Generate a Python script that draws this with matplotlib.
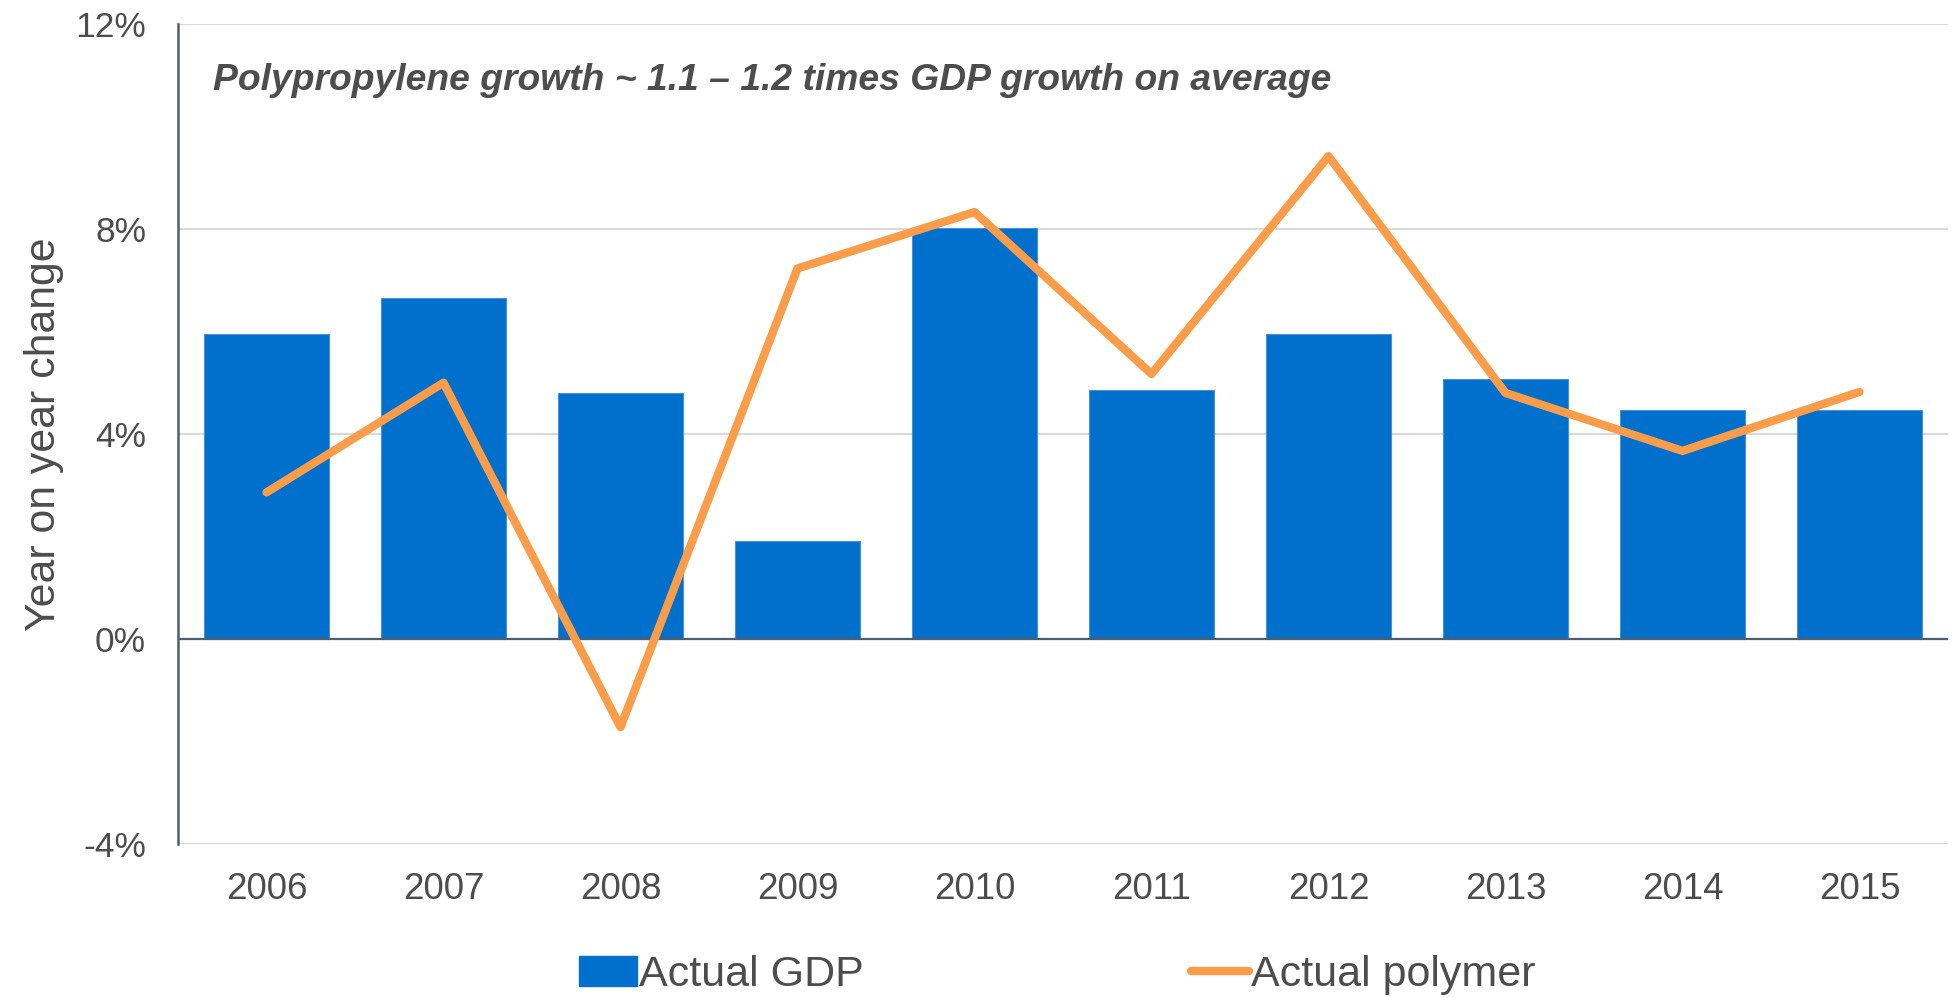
import matplotlib.pyplot as plt
from matplotlib.lines import Line2D
from matplotlib.patches import Patch
from matplotlib.ticker import FuncFormatter
import numpy as np

years = ["2006", "2007", "2008", "2009", "2010", "2011", "2012", "2013", "2014", "2015"]
gdp = [5.95, 6.65, 4.8, 1.92, 8.01, 4.85, 5.95, 5.07, 4.47, 4.47]
polymer = [2.86, 5.0, -1.72, 7.23, 8.33, 5.17, 9.42, 4.8, 3.67, 4.82]

blue = "#0070CC"
orange = "#F99D4A"
txt = "#4D4D4D"
slate = "#4A6072"

plt.rcParams["font.family"] = ["Liberation Sans", "DejaVu Sans"]

fig = plt.figure(figsize=(19.56, 9.98), dpi=100)
ax = fig.add_axes([0.091, 0.1543, 0.9049, 0.8217])

x = np.arange(len(years))
ax.bar(x, gdp, width=0.706, color=blue, edgecolor="#4A90D9", linewidth=0.8, zorder=2)
ax.plot(x, polymer, color=orange, lw=6, solid_capstyle="round",
        solid_joinstyle="round", zorder=4)
ax.axhline(0, color=slate, lw=1.6, zorder=3)

ax.set_xlim(-0.5, len(years) - 0.5)
ax.set_ylim(-4, 12)
ax.set_yticks([-4, 0, 4, 8, 12])
ax.yaxis.set_major_formatter(FuncFormatter(lambda v, p: f"{v:.0f}%"))
ax.set_xticks(x)
ax.set_xticklabels(years)
ax.grid(axis="y", color="#D9D9D9", lw=1.5, zorder=0)
ax.set_axisbelow(True)

for s in ["top", "right", "bottom"]:
    ax.spines[s].set_visible(False)
ax.spines["left"].set_color(slate)
ax.spines["left"].set_linewidth(1.8)

ax.tick_params(axis="both", length=0, colors=txt)
ax.tick_params(axis="y", pad=23, labelsize=25.5)
ax.tick_params(axis="x", pad=20, labelsize=26.5)

ax.set_ylabel("Year on year change", fontsize=30.8, color=txt, labelpad=8)

ax.text(0.0198, 0.92, "Polypropylene growth ~ 1.1 – 1.2 times GDP growth on average",
        transform=ax.transAxes, fontsize=26.8, fontweight="bold", fontstyle="italic",
        color=txt, va="baseline")

handles = [Patch(facecolor=blue, edgecolor=blue),
           Line2D([0], [0], color=orange, lw=6, solid_capstyle="round")]
leg = fig.legend(handles, ["Actual GDP", "Actual polymer"], ncol=2,
                 loc="lower left", bbox_to_anchor=(0.287, -0.014), frameon=False,
                 fontsize=31, handlelength=1.35, handleheight=0.7, handletextpad=0.05,
                 columnspacing=7.6, borderaxespad=0)
for t in leg.get_texts():
    t.set_color(txt)

fig.savefig("out.png", dpi=100)
